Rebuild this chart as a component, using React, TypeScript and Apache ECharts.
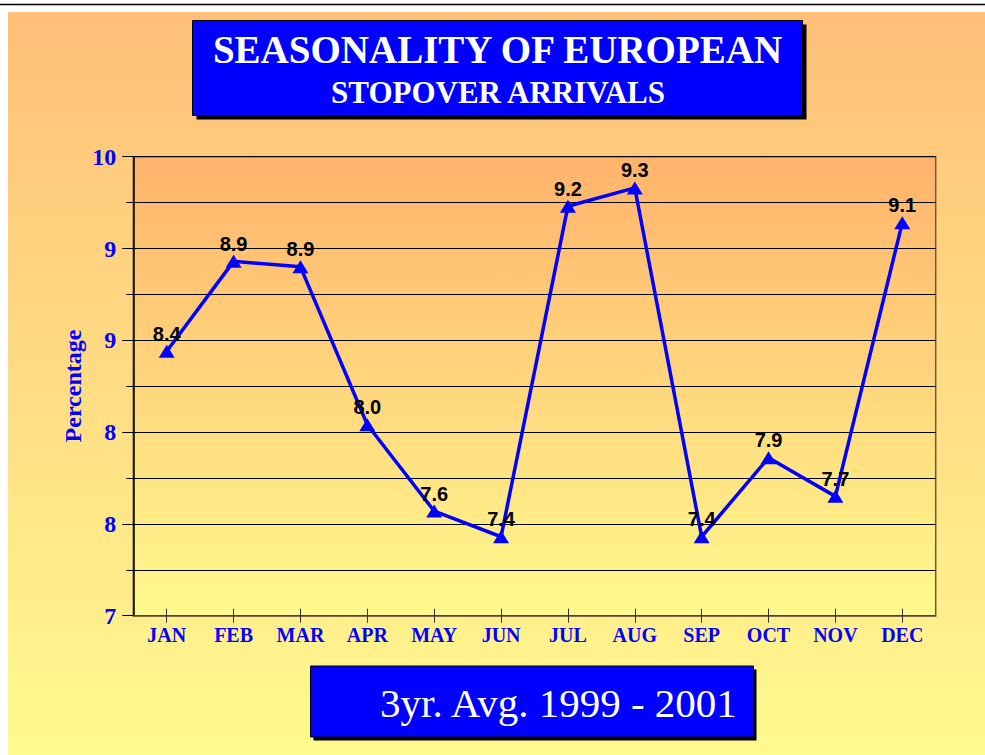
import React, { useEffect, useRef } from "react";
import * as echarts from "echarts";

const months = ["JAN", "FEB", "MAR", "APR", "MAY", "JUN", "JUL", "AUG", "SEP", "OCT", "NOV", "DEC"];
const percentages = [8.44, 8.93, 8.9, 8.04, 7.57, 7.43, 9.23, 9.33, 7.43, 7.86, 7.65, 9.14];
const titleLine1 = "SEASONALITY OF EUROPEAN";
const titleLine2 = "STOPOVER ARRIVALS";
const footnote = "3yr. Avg. 1999 - 2001";
const yAxisName = "Percentage";
const yMin = 7;
const yMax = 9.5;
const yInterval = 0.5;

const SERIF = "'Liberation Serif', 'Times New Roman', serif";
const SANS = "'Liberation Sans', Arial, sans-serif";

export default function App() {
  const ref = useRef<HTMLDivElement>(null);
  useEffect(() => {
    if (!ref.current) return;
    const chart = echarts.init(ref.current, undefined, { renderer: "svg" });
    const option: any = {
      animation: false,
      graphic: [
        {
          type: "rect",
          z: -10,
          silent: true,
          shape: { x: 8, y: 12, width: 977, height: 743 },
          style: {
            fill: new echarts.graphic.LinearGradient(0, 0, 0, 1, [
              { offset: 0, color: "#FFBF78" },
              { offset: 1, color: "#FFFA8F" },
            ]),
          },
        },
        {
          type: "line",
          silent: true,
          shape: { x1: 0, y1: 4.5, x2: 985, y2: 4.5 },
          style: { stroke: "#000", lineWidth: 1.5 },
        },
        // title box
        {
          type: "rect",
          shape: { x: 196.5, y: 24.5, width: 610, height: 95 },
          style: { fill: "#000" },
        },
        {
          type: "rect",
          shape: { x: 192.5, y: 20.5, width: 610, height: 95 },
          style: { fill: "#0000FF", stroke: "#000", lineWidth: 1 },
        },
        {
          type: "text",
          x: 497.5,
          y: 69,
          style: {
            text: titleLine1,
            fill: "#fff",
            font: `bold 39px ${SERIF}`,
            textAlign: "center",
            textVerticalAlign: "bottom",
          },
        },
        {
          type: "text",
          x: 498,
          y: 107.5,
          style: {
            text: titleLine2,
            fill: "#fff",
            font: `bold 31px ${SERIF}`,
            textAlign: "center",
            textVerticalAlign: "bottom",
          },
        },
        // footnote box
        {
          type: "rect",
          shape: { x: 313.5, y: 669.5, width: 443, height: 71 },
          style: { fill: "#000" },
        },
        {
          type: "rect",
          shape: { x: 310.5, y: 666, width: 443, height: 71 },
          style: { fill: "#0000FF", stroke: "#000", lineWidth: 1 },
        },
        {
          type: "text",
          x: 380,
          y: 703,
          style: {
            text: footnote,
            fill: "#fff",
            font: `41px ${SERIF}`,
            textAlign: "left",
            textVerticalAlign: "middle",
          },
        },
        {
          type: "text",
          x: 73,
          y: 386,
          rotation: Math.PI / 2,
          style: {
            text: yAxisName,
            fill: "#0000FF",
            font: `bold 24px ${SERIF}`,
            textAlign: "center",
            textVerticalAlign: "middle",
          },
        },
      ],
      grid: {
        left: 133.3,
        top: 156.7,
        right: 49.3,
        bottom: 139.3,
        show: true,
        borderColor: "#6E5A3C",
        borderWidth: 1.5,
        backgroundColor: new echarts.graphic.LinearGradient(0, 0, 0, 1, [
          { offset: 0, color: "#FFB36C" },
          { offset: 1, color: "#FFFA8E" },
        ]),
      },
      xAxis: [
        {
          type: "category",
          data: months,
          boundaryGap: true,
          axisLine: { show: true, lineStyle: { color: "#6E5A3C", width: 1.5 } },
          axisTick: { show: true, alignWithLabel: true, length: 7, lineStyle: { color: "#333", width: 1 } },
          axisLabel: {
            color: "#0000FF",
            fontFamily: SERIF,
            fontWeight: "bold",
            fontSize: 20,
            margin: 9,
          },
          splitLine: { show: false },
        },
        {
          type: "category",
          data: months,
          position: "bottom",
          boundaryGap: true,
          axisLine: { show: false },
          axisTick: { show: true, inside: true, alignWithLabel: true, length: 7, lineStyle: { color: "#333", width: 1 } },
          axisLabel: { show: false },
          splitLine: { show: false },
        },
      ],
      yAxis: {
        type: "value",
        min: yMin,
        max: yMax,
        interval: yInterval,
        axisLine: { show: true, lineStyle: { color: "#000", width: 1.5 } },
        axisTick: { show: true, length: 11, lineStyle: { color: "#000", width: 1 } },
        minorTick: { show: true, splitNumber: 2, length: 7, lineStyle: { color: "#000", width: 1 } },
        splitLine: { show: true, lineStyle: { color: "#000", width: 1 } },
        minorSplitLine: { show: true, lineStyle: { color: "#000", width: 1 } },
        axisLabel: {
          color: "#0000FF",
          fontFamily: SERIF,
          fontWeight: "bold",
          fontSize: 24,
          margin: 17,
          formatter: (v: number) => String(Math.round(v)),
        },
      },
      series: [
        {
          type: "line",
          data: percentages,
          xAxisIndex: 0,
          symbol: "triangle",
          symbolSize: [16, 13],
          showAllSymbol: true,
          lineStyle: { color: "#0000FF", width: 3.5 },
          itemStyle: { color: "#0000FF" },
          label: {
            show: true,
            position: "top",
            distance: 1,
            color: "#000",
            fontFamily: SANS,
            fontWeight: "bold",
            fontSize: 20,
            formatter: (p: any) => Number(p.value).toFixed(1),
          },
        },
      ],
    };
    chart.setOption(option);
    return () => chart.dispose();
  }, []);
  return (
    <div
      ref={ref}
      style={{ position: "absolute", left: 0, top: 0, width: 985, height: 755 }}
    />
  );
}
